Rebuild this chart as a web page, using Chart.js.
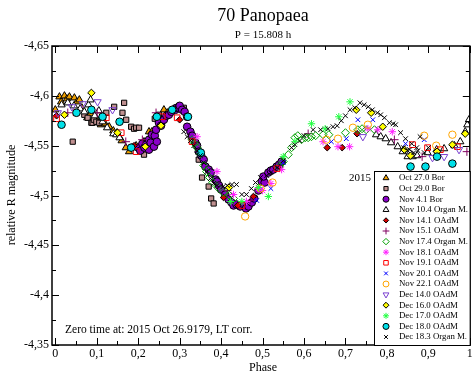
<!DOCTYPE html>
<html lang="en">
<head>
<meta charset="UTF-8">
<title>70 Panopaea</title>
<style>
    body { margin: 0; padding: 0; background: #fff; }
    .chart-container { position: relative; width: 475px; height: 378px; }
</style>
</head>
<body>
<div class="chart-container"><canvas id="lightCurveChart"></canvas></div>
<script src="https://cdn.jsdelivr.net/npm/chart.js"></script>
<script>
// phase / relative R magnitude
const seriesLabels = ["Oct 27.0 Bor", "Oct 29.0 Bor", "Nov 4.1 Bor", "Nov 10.4 Organ M.", "Nov 14.1 OAdM",
    "Nov 15.1 OAdM", "Nov 17.4 Organ M.", "Nov 18.1 OAdM", "Nov 19.1 OAdM", "Nov 20.1 OAdM",
    "Nov 22.1 OAdM", "Dec 14.0 OAdM", "Dec 16.0 OAdM", "Dec 17.0 OAdM", "Dec 18.0 OAdM", "Dec 18.3 Organ M."];

const oct27Bor = [[0.0,-4.586],[0.01,-4.599],[0.014,-4.594],[0.022,-4.6],[0.028,-4.597],[0.034,-4.599],[0.046,-4.598],
    [0.052,-4.594],[0.058,-4.596],[0.064,-4.588],[0.077,-4.578],[0.085,-4.582],[0.101,-4.576],[0.11,-4.571],[0.12,-4.572],
    [0.13,-4.569],[0.14,-4.565],[0.149,-4.563],[0.16,-4.555],[0.17,-4.548],[0.178,-4.544],[0.185,-4.548],[0.195,-4.55],
    [0.214,-4.554],[0.226,-4.564],[0.233,-4.564],[0.25,-4.575],[0.262,-4.586],[0.27,-4.583],[0.29,-4.587]];
const oct29Bor = [[0.042,-4.554],[0.07,-4.581],[0.078,-4.578],[0.087,-4.573],[0.09,-4.573],[0.093,-4.576],[0.099,-4.574],
    [0.106,-4.573],[0.115,-4.578],[0.123,-4.583],[0.142,-4.589],[0.162,-4.583],[0.166,-4.593],[0.171,-4.576],[0.183,-4.569],
    [0.19,-4.567],[0.195,-4.568],[0.202,-4.568],[0.214,-4.541],[0.24,-4.577],[0.25,-4.581],[0.258,-4.574],[0.29,-4.588],
    [0.31,-4.588],[0.346,-4.536],[0.354,-4.518],[0.37,-4.509],[0.376,-4.497],[0.382,-4.492]];
const nov4Bor = [[0.2,-4.548],[0.205,-4.545],[0.21,-4.552],[0.215,-4.548],[0.219,-4.551],[0.226,-4.546],[0.226,-4.556],
    [0.23,-4.553],[0.233,-4.561],[0.238,-4.549],[0.24,-4.56],[0.243,-4.566],[0.245,-4.554],[0.25,-4.573],[0.255,-4.57],
    [0.262,-4.576],[0.268,-4.58],[0.274,-4.581],[0.28,-4.584],[0.29,-4.586],[0.293,-4.588],[0.298,-4.588],[0.3,-4.59],
    [0.306,-4.586],[0.312,-4.584],[0.318,-4.579],[0.318,-4.569],[0.326,-4.564],[0.33,-4.56],[0.338,-4.553],[0.342,-4.55],
    [0.346,-4.544],[0.352,-4.54],[0.358,-4.536],[0.362,-4.529],[0.37,-4.526],[0.375,-4.523],[0.387,-4.516],[0.39,-4.514],
    [0.395,-4.51],[0.4,-4.506],[0.41,-4.501],[0.418,-4.496],[0.425,-4.493],[0.43,-4.49],[0.437,-4.491],[0.446,-4.489],
    [0.456,-4.49],[0.46,-4.487],[0.466,-4.489],[0.474,-4.493],[0.48,-4.497],[0.49,-4.505],[0.498,-4.514],[0.505,-4.513],
    [0.502,-4.519],[0.514,-4.523],[0.52,-4.525],[0.526,-4.526],[0.534,-4.529],[0.54,-4.531],[0.546,-4.534]];
const nov10Organ = [[0.015,-4.591],[0.03,-4.593],[0.045,-4.59],[0.06,-4.587],[0.07,-4.584],[0.08,-4.591],[0.085,-4.596],
    [0.095,-4.58],[0.105,-4.585],[0.111,-4.579],[0.114,-4.574],[0.125,-4.568],[0.14,-4.562],[0.147,-4.561],[0.155,-4.558],
    [0.774,-4.561],[0.785,-4.559],[0.797,-4.557],[0.81,-4.553],[0.826,-4.549],[0.838,-4.544],[0.85,-4.539],[0.862,-4.539],
    [0.873,-4.54],[0.898,-4.543],[0.92,-4.546],[0.938,-4.547],[0.963,-4.55],[0.977,-4.554],[0.989,-4.564],[0.994,-4.571],
    [0.998,-4.576]];
const nov14OAdM = [[0.003,-4.58],[0.19,-4.55],[0.3,-4.576],[0.406,-4.498],[0.44,-4.49],[0.478,-4.499],[0.656,-4.548],
    [0.692,-4.548],[0.728,-4.562]];
const nov15OAdM = [[0.03,-4.583],[0.101,-4.583],[0.17,-4.554],[0.21,-4.556],[0.243,-4.583],[0.415,-4.505],[0.47,-4.495],
    [0.61,-4.562],[0.818,-4.556],[0.885,-4.539],[0.993,-4.544]];
const nov17Organ = [[0.33,-4.556],[0.336,-4.552],[0.342,-4.548],[0.35,-4.542],[0.358,-4.53],[0.365,-4.524],[0.372,-4.518],
    [0.38,-4.513],[0.392,-4.508],[0.405,-4.503],[0.42,-4.5],[0.43,-4.497],[0.54,-4.529],[0.55,-4.534],[0.562,-4.541],
    [0.57,-4.548],[0.578,-4.558],[0.585,-4.56],[0.594,-4.556],[0.603,-4.558],[0.61,-4.558],[0.618,-4.559],[0.628,-4.56],
    [0.646,-4.561],[0.66,-4.561],[0.7,-4.563],[0.73,-4.566],[0.74,-4.567],[0.75,-4.566],[0.77,-4.566]];
const nov18OAdM = [[0.342,-4.559],[0.39,-4.524],[0.43,-4.501],[0.461,-4.494],[0.49,-4.507],[0.5,-4.505],[0.52,-4.512],
    [0.546,-4.526],[0.646,-4.554],[0.682,-4.549],[0.71,-4.549],[0.754,-4.567],[0.778,-4.566],[0.813,-4.564]];
const nov19OAdM = [[0.003,-4.577],[0.05,-4.583],[0.123,-4.578],[0.159,-4.563],[0.195,-4.544],[0.258,-4.579],[0.294,-4.578],
    [0.33,-4.554],[0.45,-4.49],[0.535,-4.527],[0.862,-4.551],[0.898,-4.548],[0.929,-4.546],[0.97,-4.549]];
const nov20OAdM = [[0.486,-4.495],[0.52,-4.507],[0.55,-4.533],[0.666,-4.554],[0.702,-4.557],[0.73,-4.576],[0.766,-4.576],
    [0.845,-4.552],[0.89,-4.556]];
const nov22OAdM = [[0.458,-4.479],[0.495,-4.507],[0.524,-4.513],[0.654,-4.556],[0.682,-4.557],[0.718,-4.568],[0.754,-4.571],
    [0.89,-4.56],[0.919,-4.55],[0.958,-4.561]];
const dec14OAdM = [[0.006,-4.583],[0.04,-4.589],[0.066,-4.592],[0.102,-4.594],[0.138,-4.586],[0.742,-4.559],[0.91,-4.538],
    [0.938,-4.539],[0.974,-4.546]];
const dec16OAdM = [[0.022,-4.581],[0.087,-4.603],[0.15,-4.563],[0.217,-4.549],[0.255,-4.57],[0.419,-4.508],[0.726,-4.586],
    [0.762,-4.583],[0.79,-4.569],[0.842,-4.546],[0.857,-4.54],[0.921,-4.544],[0.958,-4.551],[0.989,-4.562]];
const dec17OAdM = [[0.423,-4.494],[0.45,-4.494],[0.49,-4.508],[0.514,-4.499],[0.55,-4.539],[0.578,-4.554],[0.618,-4.572],
    [0.651,-4.567],[0.684,-4.579],[0.711,-4.594]];
const dec18OAdM = [[0.015,-4.571],[0.051,-4.583],[0.087,-4.586],[0.114,-4.579],[0.155,-4.574],[0.183,-4.548],[0.245,-4.579],
    [0.282,-4.586],[0.32,-4.579],[0.351,-4.543],[0.857,-4.529],[0.893,-4.529],[0.921,-4.539],[0.958,-4.532]];
const dec18Organ = [[0.31,-4.564],[0.318,-4.559],[0.326,-4.555],[0.334,-4.55],[0.342,-4.545],[0.35,-4.54],[0.358,-4.533],
    [0.366,-4.524],[0.374,-4.517],[0.382,-4.512],[0.39,-4.51],[0.405,-4.509],[0.415,-4.51],[0.426,-4.511],[0.437,-4.511],
    [0.45,-4.501],[0.461,-4.501],[0.473,-4.507],[0.483,-4.513],[0.495,-4.518],[0.51,-4.52],[0.52,-4.523],[0.535,-4.528],
    [0.55,-4.535],[0.57,-4.548],[0.578,-4.551],[0.59,-4.555],[0.6,-4.56],[0.622,-4.566],[0.64,-4.566],[0.658,-4.567],
    [0.67,-4.569],[0.68,-4.57],[0.69,-4.575],[0.7,-4.58],[0.711,-4.586],[0.723,-4.588],[0.735,-4.593],[0.745,-4.591],
    [0.755,-4.589],[0.765,-4.586],[0.777,-4.583],[0.785,-4.581],[0.794,-4.578],[0.806,-4.573],[0.815,-4.572],[0.821,-4.571],
    [0.833,-4.563],[0.84,-4.548],[0.845,-4.557],[0.85,-4.545],[0.855,-4.546],[0.86,-4.552],[0.865,-4.543],[0.872,-4.548],
    [0.875,-4.545],[0.88,-4.559],[0.89,-4.543],[0.9,-4.548]];

const seriesData = [oct27Bor, oct29Bor, nov4Bor, nov10Organ, nov14OAdM, nov15OAdM, nov17Organ, nov18OAdM,
    nov19OAdM, nov20OAdM, nov22OAdM, dec14OAdM, dec16OAdM, dec17OAdM, dec18OAdM, dec18Organ];

const xTicks = [0, 0.1, 0.2, 0.3, 0.4, 0.5, 0.6, 0.7, 0.8, 0.9, 1];
const yTicks = [-4.65, -4.6, -4.55, -4.5, -4.45, -4.4, -4.35];

// marker styles: [pointStyle, fill, border, radius, rotation]
const markerStyles = [
    ["triangle", "#f0a000", "#000", 4.2, 0],
    ["rect", "#c09090", "#000", 3.7, 0],
    ["circle", "#8a00c8", "#000", 3.8, 0],
    ["triangle", "#ffffff", "#000", 4.2, 0],
    ["rectRot", "#d00000", "#000", 3.3, 0],
    ["cross", "#800060", "#800060", 4.2, 0],
    ["rectRot", "rgba(0,0,0,0)", "#00a000", 4, 0],
    ["star", "#ff20ff", "#ff20ff", 3.7, 0],
    ["rect", "rgba(0,0,0,0)", "#ff0000", 4, 0],
    ["crossRot", "#0000ff", "#0000ff", 3.3, 0],
    ["circle", "rgba(0,0,0,0)", "#ffa500", 3.7, 0],
    ["triangle", "rgba(0,0,0,0)", "#7a40d0", 4.2, 180],
    ["rectRot", "#ffff00", "#000", 3.7, 0],
    ["star", "#20ff40", "#20ff40", 3.7, 0],
    ["circle", "#00e0e8", "#000", 3.8, 0],
    ["crossRot", "#000", "#000", 3.3, 0]
];

const serif = "'Liberation Serif', 'DejaVu Serif', serif";
const fmt = v => parseFloat(v.toFixed(3)).toString().replace(".", ",");

const datasets = seriesData.map((pts, i) => {
    const [style, fill, border, r, rot] = markerStyles[i];
    return {
        label: seriesLabels[i],
        data: pts.map(p => ({ x: p[0], y: p[1] })),
        pointStyle: style,
        pointRadius: r,
        pointRotation: rot,
        pointBackgroundColor: fill,
        pointBorderColor: border,
        pointBorderWidth: 1,
        order: -i
    };
});

function line(ctx, x1, y1, x2, y2) {
    ctx.beginPath();
    ctx.moveTo(x1, y1);
    ctx.lineTo(x2, y2);
    ctx.stroke();
}

const decorations = {
    id: "decorations",
    afterDraw(chart) {
        const { ctx, chartArea: a, scales: { x, y } } = chart;
        ctx.save();
        ctx.strokeStyle = "#000";
        ctx.lineWidth = 1;
        // inward ticks on all four sides
        for (let i = 0; i <= 20; i++) {
            const px = Math.round(x.getPixelForValue(i * 0.05)) + 0.5;
            const len = i % 2 === 0 ? 7 : 4;
            line(ctx, px, a.bottom, px, a.bottom - len);
            line(ctx, px, a.top, px, a.top + len);
        }
        for (let i = 0; i <= 12; i++) {
            const py = Math.round(y.getPixelForValue(-4.65 + i * 0.025)) + 0.5;
            const len = i % 2 === 0 ? 7 : 4;
            line(ctx, a.left, py, a.left + len, py);
            line(ctx, a.right, py, a.right - len, py);
        }
        ctx.lineWidth = 1.5;
        ctx.strokeRect(a.left, a.top, a.right - a.left, a.bottom - a.top);

        ctx.fillStyle = "#000";
        ctx.textAlign = "center";
        ctx.textBaseline = "middle";
        ctx.font = "18px " + serif;
        ctx.fillText("70 Panopaea", 263, 16);
        ctx.font = "11px " + serif;
        ctx.fillText("P = 15.808 h", 263, 35);
        ctx.font = "12px " + serif;
        ctx.fillText("Phase", 263, 368);
        ctx.save();
        ctx.translate(12, 195);
        ctx.rotate(-Math.PI / 2);
        ctx.fillText("relative R magnitude", 0, 0);
        ctx.restore();
        ctx.textAlign = "left";
        ctx.font = "11.5px " + serif;
        ctx.fillText("Zero time at: 2015 Oct 26.9179, LT corr.", 65, 330);
        ctx.font = "11px " + serif;
        ctx.fillText("2015", 349, 178);

        // legend box
        const lx = 374, ly = 171;
        ctx.fillStyle = "#fff";
        ctx.fillRect(lx, ly, a.right - lx, a.bottom - ly);
        ctx.lineWidth = 1;
        ctx.strokeStyle = "#000";
        ctx.strokeRect(lx + 0.5, ly + 0.5, a.right - lx, a.bottom - ly);
        ctx.font = "8.8px " + serif;
        seriesLabels.forEach((lab, i) => {
            const yy = 178 + i * 10.6;
            const [style, fill, border, r, rot] = markerStyles[i];
            ctx.fillStyle = fill;
            ctx.strokeStyle = border;
            ctx.lineWidth = 1;
            Chart.helpers.drawPoint(ctx, { pointStyle: style, rotation: rot, radius: r * 0.8, borderWidth: 1 }, 386, yy);
            ctx.fillStyle = "#000";
            ctx.fillText(lab, 399, yy);
        });
        ctx.restore();
    }
};

new Chart(document.getElementById("lightCurveChart"), {
    type: "scatter",
    data: { datasets },
    options: {
        responsive: true,
        maintainAspectRatio: false,
        animation: false,
        layout: { padding: { top: 46, right: 2, left: 0, bottom: 0 } },
        plugins: { legend: { display: false }, tooltip: { enabled: false } },
        scales: {
            x: {
                type: "linear",
                min: -0.008,
                max: 1,
                grid: { display: false, drawTicks: false },
                border: { display: false },
                afterBuildTicks: s => { s.ticks = xTicks.map(v => ({ value: v })); },
                afterFit: s => { s.height = 33; s.paddingLeft = 0; s.paddingRight = 0; },
                ticks: { color: "#000", font: { family: serif, size: 12 }, padding: 2, maxRotation: 0, callback: v => fmt(v) }
            },
            y: {
                type: "linear",
                reverse: true,
                min: -4.65,
                max: -4.35,
                grid: { display: false, drawTicks: false },
                border: { display: false },
                afterBuildTicks: s => { s.ticks = yTicks.map(v => ({ value: v })); },
                afterFit: s => { s.width = 52; },
                ticks: { color: "#000", font: { family: serif, size: 12 }, padding: 3, callback: v => fmt(v) }
            }
        }
    },
    plugins: [decorations]
});
</script>
</body>
</html>
